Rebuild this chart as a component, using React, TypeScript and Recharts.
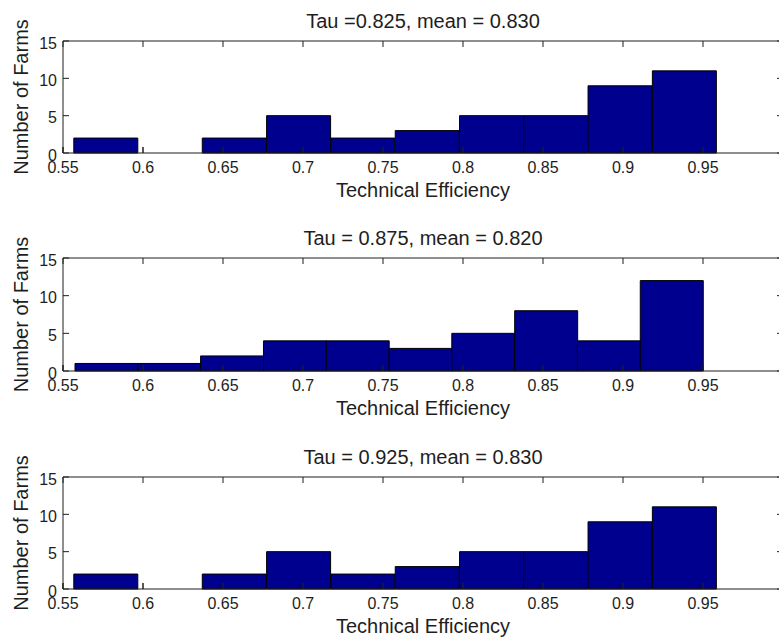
import React from 'react';
import { BarChart, Bar, XAxis, YAxis, ReferenceLine } from 'recharts';

// bin centres and counts
const binsTau825 = [0.5768, 0.617, 0.6571, 0.6973, 0.7375, 0.7777, 0.8179, 0.858, 0.8982, 0.9384];
const countsTau825 = [2, 0, 2, 5, 2, 3, 5, 5, 9, 11];

const binsTau875 = [0.5771, 0.6164, 0.6556, 0.6949, 0.7341, 0.7734, 0.8126, 0.8519, 0.8911, 0.9304];
const countsTau875 = [1, 1, 2, 4, 4, 3, 5, 8, 4, 12];

const binsTau925 = [0.5768, 0.617, 0.6571, 0.6973, 0.7375, 0.7777, 0.8179, 0.858, 0.8982, 0.9384];
const countsTau925 = [2, 0, 2, 5, 2, 3, 5, 5, 9, 11];

const titles = ['Tau =0.825, mean = 0.830', 'Tau = 0.875, mean = 0.820', 'Tau = 0.925, mean = 0.830'];

const xTicks = [0.55, 0.6, 0.65, 0.7, 0.75, 0.8, 0.85, 0.9, 0.95];
const yTicks = [0, 5, 10, 15];

const FONT = '"Liberation Sans", Arial, Helvetica, sans-serif';
const INK = '#1e1e1e';
const BAR = '#00008f';

const YTitle = (props: any) => {
  const vb = props.viewBox || {};
  const cy = (vb.y || 0) + (vb.height || 0) / 2;
  return (
    <text
      x={21}
      y={cy}
      transform={`rotate(-90 21 ${cy})`}
      textAnchor="middle"
      dominantBaseline="central"
      fontSize={20}
      fontFamily={FONT}
      fill={INK}
    >
      Number of Farms
    </text>
  );
};

const PlotTitle = (props: any) => {
  const vb = props.viewBox || {};
  const cx = (vb.x || 0) + (vb.width || 0) / 2;
  // baseline sits ~13px above the top of the box
  const y = (vb.y || 0) + (vb.height || 0) - 13;
  return (
    <text x={cx} y={y} textAnchor="middle" fontSize={20} fontFamily={FONT} fill={INK}>
      {props.title}
    </text>
  );
};

interface PanelProps {
  title: string;
  bins: number[];
  counts: number[];
  top: number;
  plotHeight: number;
}

const Panel: React.FC<PanelProps> = ({ title, bins, counts, top, plotHeight }) => {
  const data = bins.map((x, i) => ({ x, count: counts[i] }));
  const tickStyle = { fontSize: 16, fontFamily: FONT, fill: INK };
  // a full-height line dashed so only 6px shows at each end = inward ticks on both edges
  const edgeTicks = `6 ${plotHeight - 12} 6`;
  return (
    <div style={{ position: 'absolute', left: 0, top }}>
      <BarChart
        width={800}
        height={41 + plotHeight + 57}
        data={data}
        barCategoryGap={0}
        margin={{ top: 40, right: 16, bottom: 0, left: 33 }}
      >
        <XAxis
          dataKey="x"
          type="number"
          domain={[0.55, 1]}
          ticks={xTicks}
          interval={0}
          height={57}
          tickSize={-6}
          tickMargin={15}
          tick={tickStyle}
          stroke={INK}
          label={{ value: 'Technical Efficiency', position: 'insideTop', offset: 30, fontSize: 20, fontFamily: FONT, fill: INK }}
        />
        <XAxis
          xAxisId="top"
          orientation="top"
          dataKey="x"
          type="number"
          domain={[0.55, 1]}
          allowDataOverflow
          ticks={xTicks}
          interval={0}
          height={1}
          tickLine={false}
          tickFormatter={() => ''}
          stroke={INK}
          label={<PlotTitle title={title} />}
        />
        <YAxis
          type="number"
          domain={[0, 15]}
          ticks={yTicks}
          interval={0}
          width={30}
          tickSize={-6}
          tickMargin={12}
          tick={{ ...tickStyle, dy: 2 }}
          stroke={INK}
          label={<YTitle />}
        />
        <YAxis
          yAxisId="right"
          orientation="right"
          type="number"
          domain={[0, 15]}
          allowDataOverflow
          ticks={yTicks}
          interval={0}
          width={1}
          tickSize={-6}
          tickMargin={0}
          tickFormatter={() => ''}
          stroke={INK}
        />
        {xTicks.map((t) => (
          <ReferenceLine
            key={t}
            x={t}
            stroke={INK}
            strokeWidth={1}
            strokeDasharray={edgeTicks}
            ifOverflow="visible"
          />
        ))}
        <Bar dataKey="count" fill={BAR} stroke="#000" strokeWidth={1} isAnimationActive={false} />
      </BarChart>
    </div>
  );
};

export default function App() {
  return (
    <div
      style={{
        position: 'absolute',
        left: 0,
        top: 0,
        width: 779,
        height: 640,
        overflow: 'hidden',
        background: '#fff',
      }}
    >
      <Panel title={titles[0]} bins={binsTau825} counts={countsTau825} top={0} plotHeight={112} />
      <Panel title={titles[1]} bins={binsTau875} counts={countsTau875} top={217} plotHeight={113} />
      <Panel title={titles[2]} bins={binsTau925} counts={countsTau925} top={436} plotHeight={112} />
    </div>
  );
}
